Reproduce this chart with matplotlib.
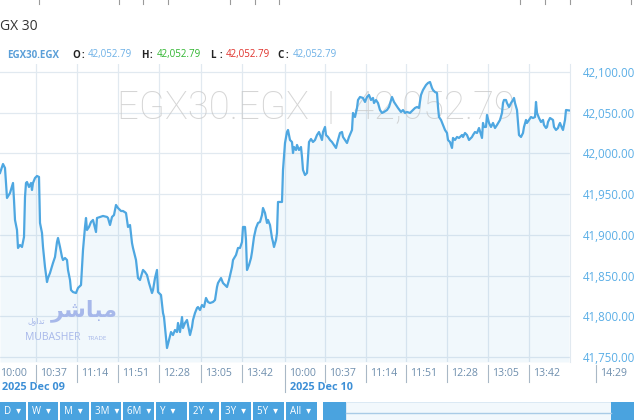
import matplotlib
matplotlib.use("Agg")
import matplotlib.pyplot as plt
import matplotlib.transforms as mtransforms
from matplotlib.patches import Rectangle
from matplotlib.ticker import FuncFormatter

# intraday bar index (both sessions on one compressed axis) and index level
bars = [0, 3, 5, 7, 10, 13, 14, 15, 17, 18, 20, 22, 24, 25, 26, 27, 29, 31, 32, 33,
        35, 37, 39, 40, 42, 43, 45, 47, 48, 50, 53, 55, 57, 58, 60, 62, 63, 65, 67, 68,
        70, 71, 73, 76, 78, 81, 83, 85, 86, 87, 89, 91, 93, 96, 97, 100, 103, 107, 108, 110,
        112, 114, 116, 118, 121, 123, 126, 128, 130, 132, 133, 136, 138, 140, 143, 145, 147, 149, 152, 153,
        155, 157, 158, 161, 163, 164, 166, 167, 169, 171, 173, 175, 177, 178, 180, 182, 183, 185, 187, 190,
        192, 193, 195, 197, 198, 200, 202, 204, 206, 208, 210, 213, 215, 217, 218, 221, 223, 225, 227, 229,
        232, 233, 236, 238, 240, 242, 243, 245, 246, 247, 249, 251, 252, 254, 256, 258, 260, 262, 263, 265,
        267, 268, 270, 272, 273, 274, 276, 277, 278, 282, 283, 285, 287, 288, 290, 292, 293, 294, 296, 297,
        299, 301, 302, 303, 305, 307, 308, 309, 311, 313, 315, 317, 319, 322, 323, 325, 326, 328, 330, 332,
        334, 336, 338, 340, 342, 343, 345, 347, 349, 352, 353, 355, 357, 358, 360, 363, 365, 367, 369, 371,
        373, 374, 376, 378, 380, 382, 384, 387, 389, 392, 394, 396, 398, 401, 403, 405, 407, 410, 413, 415,
        417, 419, 421, 423, 426, 428, 430, 432, 433, 435, 437, 438, 439, 441, 443, 445, 447, 448, 450, 452,
        453, 455, 457, 459, 462, 463, 465, 467, 469, 472, 473, 475, 477, 479, 482, 483, 484, 486, 487, 489,
        491, 493, 495, 497, 500, 502, 503, 504, 506, 507, 509, 511, 513, 514, 515, 517, 518, 519, 521, 523,
        524, 526, 527, 529, 531, 533, 535, 536, 537, 539, 541, 543, 544, 546, 547, 548, 550, 553, 554, 556,
        558, 559, 560, 562, 563, 565, 566, 569]
closes = [41976.0, 41987.0, 41982.1, 41945.3, 41951.4, 41963.7, 41942.8, 41918.3, 41906.0, 41883.9,
          41887.6, 41885.1, 41897.4, 41946.5, 41963.7, 41964.9, 41958.8, 41963.7, 41955.1, 41963.7,
          41969.8, 41972.3, 41971.1, 41914.6, 41902.3, 41885.1, 41860.5, 41842.1, 41847.0, 41853.2,
          41865.5, 41872.8, 41891.2, 41896.2, 41885.1, 41872.8, 41869.1, 41871.6, 41869.1, 41856.9,
          41844.6, 41832.3, 41829.8, 41828.6, 41834.8, 41838.4, 41881.4, 41909.7, 41920.7, 41906.0,
          41909.7, 41915.8, 41918.3, 41903.5, 41920.7, 41922.0, 41923.2, 41922.0, 41920.7, 41912.1,
          41922.0, 41924.4, 41936.7, 41933.0, 41929.3, 41929.3, 41926.9, 41909.7, 41912.1, 41890.0,
          41883.9, 41869.1, 41847.0, 41844.6, 41856.9, 41854.4, 41850.7, 41840.9, 41828.6, 41832.3,
          41847.0, 41856.9, 41829.8, 41826.2, 41804.1, 41799.1, 41774.6, 41761.1, 41770.9, 41780.7,
          41777.0, 41783.2, 41780.7, 41791.8, 41780.7, 41799.1, 41785.6, 41791.8, 41795.5, 41777.0,
          41786.9, 41795.5, 41804.1, 41810.2, 41811.4, 41807.7, 41813.9, 41811.4, 41822.5, 41817.6,
          41816.3, 41817.6, 41820.0, 41836.0, 41840.9, 41847.0, 41840.9, 41838.4, 41836.0, 41844.6,
          41860.5, 41869.1, 41875.3, 41883.9, 41883.9, 41891.2, 41909.7, 41909.7, 41893.7, 41856.9,
          41863.0, 41871.6, 41879.0, 41897.4, 41908.4, 41914.6, 41915.8, 41924.4, 41933.0, 41926.9,
          41914.6, 41918.3, 41912.1, 41896.2, 41891.2, 41885.1, 41893.7, 41902.3, 41940.4, 41940.4,
          41979.7, 42012.8, 42026.3, 42028.8, 42016.5, 42014.0, 42000.5, 42007.9, 42004.2, 42010.4,
          42004.2, 42007.9, 41995.6, 41979.7, 41973.5, 41976.0, 41995.6, 42014.0, 42017.7, 42014.0,
          42016.5, 42022.6, 42026.3, 42016.5, 42026.3, 42032.5, 42022.6, 42020.2, 42016.5, 42014.0,
          42010.4, 42006.7, 42016.5, 42025.1, 42026.3, 42020.2, 42016.5, 42012.8, 42020.2, 42028.8,
          42049.7, 42044.7, 42055.8, 42065.6, 42069.3, 42068.1, 42063.2, 42069.3, 42071.8, 42065.6,
          42068.1, 42061.9, 42065.6, 42061.9, 42053.3, 42049.7, 42050.9, 42053.3, 42057.0, 42069.3,
          42063.2, 42059.5, 42055.8, 42050.9, 42053.3, 42049.7, 42050.9, 42049.7, 42053.3, 42055.8,
          42057.0, 42055.8, 42071.8, 42077.9, 42084.0, 42086.5, 42087.7, 42080.4, 42077.9, 42075.4,
          42074.2, 42057.0, 42044.7, 42041.1, 42034.9, 42028.8, 42025.1, 42016.5, 42014.0, 42006.7,
          42019.0, 42016.5, 42020.2, 42019.0, 42022.6, 42020.2, 42025.1, 42022.6, 42016.5, 42020.2,
          42022.6, 42026.3, 42025.1, 42031.2, 42019.0, 42037.4, 42032.5, 42032.5, 42047.2, 42037.4,
          42032.5, 42037.4, 42031.2, 42034.9, 42041.1, 42049.7, 42061.9, 42065.6, 42065.6, 42061.9,
          42057.0, 42061.9, 42065.6, 42068.1, 42061.9, 42053.3, 42038.6, 42022.6, 42020.2, 42025.1,
          42032.5, 42041.1, 42037.4, 42041.1, 42044.7, 42043.5, 42044.7, 42063.2, 42049.7, 42043.5,
          42038.6, 42041.1, 42034.9, 42031.2, 42032.5, 42038.6, 42043.5, 42041.1, 42032.5, 42028.8,
          42031.2, 42034.9, 42037.4, 42031.2, 42028.8, 42041.1, 42053.3, 42052.79]

symbol = "EGX30.EGX"
title = "GX 30"
ohlc_names = ["O", "H", "L", "C"]
ohlc_values = [42052.79, 42052.79, 42052.79, 42052.79]
last_price = 42052.79

y_ticks = [41750, 41800, 41850, 41900, 41950, 42000, 42050, 42100]
time_labels = ["10:00", "10:37", "11:14", "11:51", "12:28", "13:05", "13:42",
               "10:00", "10:37", "11:14", "11:51", "12:28", "13:05", "13:42", "14:29"]
date_labels = ["2025 Dec 09", "2025 Dec 10"]
range_buttons = ["D", "W", "M", "3M", "6M", "Y", "2Y", "3Y", "5Y", "All"]

# layout (bar positions of the time labels, pixel positions of the widget parts)
label_bars = [-4, 36, 77, 118, 159, 201, 242, 285, 325, 366, 406, 447, 488, 529, 596]
day_start_bars = [-4, 285]

plt.rcParams["font.family"] = ["Open Sans", "DejaVu Sans"]

W, H = 640, 420


def fx(px):
    return px / W


def fy(py):
    return 1 - py / H


fig = plt.figure(figsize=(6.4, 4.2), dpi=100)
ax = fig.add_axes([0, fy(362), fx(570), (362 - 64) / H])
ax.set_facecolor("none")

ymin, ymax = 41743.9, 42109.8
line_col = "#4ea7e1"
ax.fill_between(bars, closes, ymin, color="#4da6e0", alpha=0.08, lw=0, zorder=1)
ax.plot(bars, closes, color=line_col, lw=1.6, zorder=3, solid_joinstyle="round")
ax.set_xlim(0, 570)
ax.set_ylim(ymin, ymax)

ax.set_xticks(label_bars[1:-1])
ax.set_yticks(y_ticks)
ax.grid(True, color="#e1e9f0", lw=0.9)
ax.set_axisbelow(True)
for s in ["top", "left", "bottom"]:
    ax.spines[s].set_visible(False)
ax.spines["right"].set_color("#e1e9f0")
ax.tick_params(axis="x", length=0, labelbottom=False)
ax.yaxis.tick_right()
ax.tick_params(axis="y", length=0, pad=9, labelsize=8.3, labelcolor="#5aaee6")
ax.yaxis.set_major_formatter(FuncFormatter(lambda v, p: f"{v:,.2f}"))

# watermark
ax.text(fx(316), fy(108), f"{symbol}  |  {last_price:,.2f}", transform=fig.transFigure,
        ha="center", va="center", fontsize=27.5, color="#c4c4c4", alpha=0.7,
        family=["Roboto", "Liberation Sans"], fontweight="light", zorder=2)

# time labels with separators
tr = mtransforms.blended_transform_factory(ax.transData, fig.transFigure)
for b, lab in zip(label_bars, time_labels):
    ax.text(b + 4, fy(373), lab, transform=tr, ha="left", va="center",
            fontsize=7.6, color="#6f8fae", clip_on=False)
    bottom = 392 if b in day_start_bars else 382
    ax.plot([b, b], [fy(365), fy(bottom)], transform=tr, color="#a9b8c6",
            lw=0.8, clip_on=False)
for b, lab in zip(day_start_bars, date_labels):
    ax.text(max(b + 5, 2), fy(388), lab, transform=tr, ha="left", va="center",
            fontsize=7.8, fontweight="bold", color="#3d8fd6", clip_on=False)

# header
fig.text(fx(0), fy(27), title, ha="left", va="center", fontsize=10, color="#333333")
fig.text(fx(7), fy(55), symbol, ha="left", va="center", fontsize=7,
         fontweight="bold", color="#5b9fd8")
value_cols = ["#6cb0e6", "#2fb52f", "#e0302a", "#6cb0e6"]
name_x = [72, 141, 210, 277]
for nm, val, col, x0 in zip(ohlc_names, ohlc_values, value_cols, name_x):
    fig.text(fx(x0), fy(55), nm, ha="left", va="center", fontsize=7,
             fontweight="bold", color="#222222")
    fig.text(fx(x0 + 9), fy(55), ":", ha="left", va="center", fontsize=7,
             fontweight="bold", color="#222222")
    fig.text(fx(x0 + 16), fy(55), f"{val:,.2f}", ha="left", va="center",
             fontsize=7, color=col)

# remnants of the element above
for x0 in [39, 119, 143, 168, 230, 255, 279, 520, 545, 570, 631]:
    fig.add_artist(plt.Line2D([fx(x0), fx(x0)], [fy(0), fy(4)], color="#9a9a9a", lw=0.8))

# logo
logo_col = "#a7b8ea"
fig.text(fx(84), fy(311), "\uFEAE\uFEB7\uFE8E\uFE92\uFEE3", ha="center", va="center",
         fontsize=16, color=logo_col, family=["DejaVu Sans"], fontweight="bold")
fig.text(fx(36), fy(321), "\uFEDD\uFEED\uFE8D\uFEAA\uFE97", ha="center", va="center",
         fontsize=5.5, color=logo_col, family=["DejaVu Sans"])
fig.text(fx(25), fy(338), "MUBASHER", ha="left", va="center", fontsize=7.5,
         color=logo_col)
fig.text(fx(88), fy(339), "TRADE", ha="left", va="center", fontsize=4.5,
         color=logo_col)

# range buttons
btn_col = "#4aa3df"
btn_x = [0, 28, 60, 91, 123, 156, 189, 221, 253, 286]
btn_w = [26, 30, 29, 30, 31, 31, 30, 30, 31, 31]
for lab, x0, w in zip(range_buttons, btn_x, btn_w):
    fig.add_artist(Rectangle((fx(x0), fy(420)), w / W, 18 / H, transform=fig.transFigure,
                             facecolor=btn_col, edgecolor="none"))
    fig.text(fx(x0 + 4), fy(412), lab + "  \u25BE", ha="left", va="center",
             fontsize=7, color="white")

# navigator
fig.add_artist(Rectangle((fx(346), fy(420)), 265 / W, 18 / H, transform=fig.transFigure,
                         facecolor="#f2f8fc", edgecolor="#d6e6f3", lw=0.6))
fig.add_artist(plt.Line2D([fx(346), fx(611)], [fy(413), fy(413)], color="#a9cbe6", lw=1))
for x0 in [323, 611]:
    fig.add_artist(Rectangle((fx(x0), fy(420)), 23 / W, 18 / H, transform=fig.transFigure,
                             facecolor=btn_col, edgecolor="none"))

fig.savefig("out.png", dpi=100)
